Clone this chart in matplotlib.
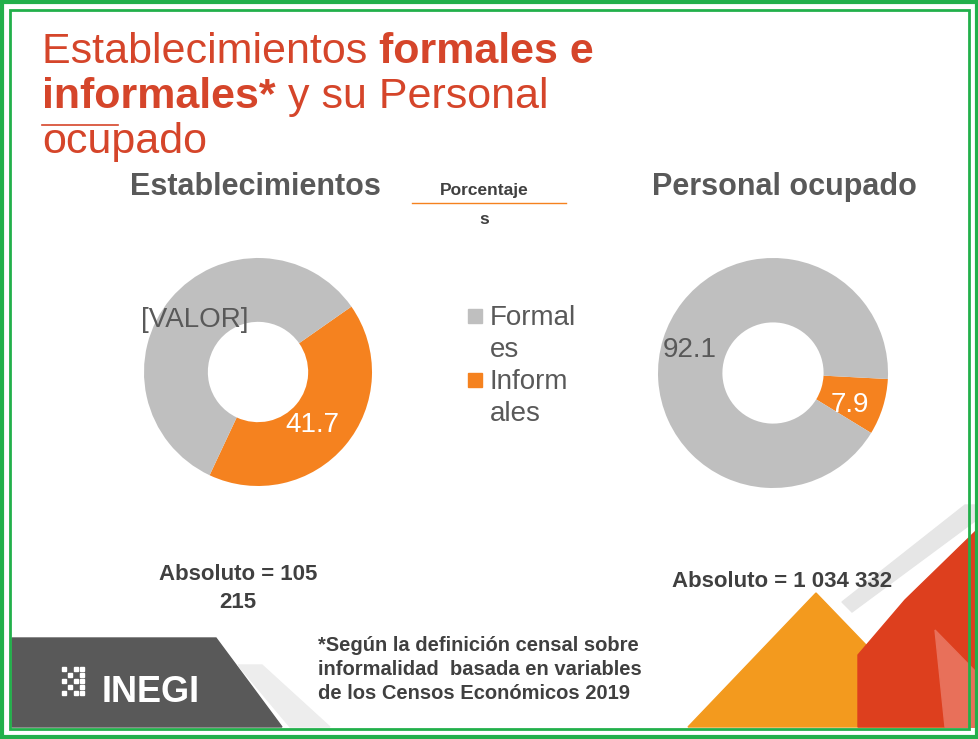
import matplotlib.pyplot as plt
from matplotlib.patches import Rectangle, Polygon

# data
categories = ["Formales", "Informales"]
establecimientos = [58.3, 41.7]
personal = [92.1, 7.9]
est_labels = ["[VALOR]", "41.7"]
per_labels = ["92.1", "7.9"]

GRAY = "#BFBFBF"
ORANGE = "#F5821F"
TITLE = "#D5452A"
DARK = "#404040"
FONT = "Liberation Sans"

W, H = 979, 739
fig = plt.figure(figsize=(W / 100, H / 100), dpi=100)
bg = fig.add_axes([0, 0, 1, 1])
bg.set_xlim(0, W)
bg.set_ylim(H, 0)
bg.axis("off")

# decorative slide shapes
bg.add_patch(Polygon([(12, 638), (216, 638), (282, 727), (12, 727)], color="#595959"))
bg.add_patch(Polygon([(238, 665), (262, 665), (330, 727), (290, 727)], color="#EDEDED"))
bg.add_patch(Polygon([(965, 505), (979, 505), (979, 518), (852, 612), (842, 602)], color="#E6E6E6"))
bg.add_patch(Polygon([(688, 727), (816, 593), (945, 727)], color="#F39A1E"))
bg.add_patch(Polygon([(979, 528), (979, 727), (858, 727), (858, 655), (905, 600)], color="#DD3F1E"))
bg.add_patch(Polygon([(935, 630), (979, 675), (979, 727), (945, 727)], color="#E8705A"))

# green double frame
bg.add_patch(Rectangle((2, 2), W - 4, H - 4, fill=False, ec="#22B04B", lw=3))
bg.add_patch(Rectangle((10, 10), W - 20, H - 20, fill=False, ec="#22B04B", lw=2))

# title with mixed weights
def runs(x, y, parts):
    r = fig.canvas.get_renderer()
    for s, w in parts:
        t = bg.text(x, y, s, fontsize=31, color=TITLE, fontweight=w, family=FONT, va="baseline")
        bb = t.get_window_extent(r)
        x += bb.width

runs(42, 63, [("Establecimientos ", "normal"), ("formales e", "bold")])
runs(42, 108, [("informales*", "bold"), (" y su Personal", "normal")])
runs(42, 153, [("ocupado", "normal")])
bg.plot([42, 118], [125, 125], color=TITLE, lw=1.2)

bg.text(130, 195, "Establecimientos", fontsize=22, color="#595959", family=FONT, fontweight="bold")
bg.text(652, 195, "Personal ocupado", fontsize=22, color="#595959", family=FONT, fontweight="bold")
bg.text(484, 195, "Porcentaje", fontsize=12.5, color=DARK, family=FONT, fontweight="bold", ha="center")
bg.plot([412, 566], [203, 203], color=ORANGE, lw=1)
bg.text(484, 224, "s", fontsize=12.5, color=DARK, family=FONT, fontweight="bold", ha="center")

# legend
leg_text = [("Formal", "es"), ("Inform", "ales")]
for i, (c, (a, b)) in enumerate(zip([GRAY, ORANGE], leg_text)):
    y = 316 + i * 64
    bg.add_patch(Rectangle((468, y - 7), 14, 14, color=c))
    bg.text(490, y + 9, a, fontsize=20, color="#595959", family=FONT)
    bg.text(490, y + 41, b, fontsize=20, color="#595959", family=FONT)

bg.text(238, 580, "Absoluto = 105", fontsize=16, color=DARK, family=FONT, fontweight="bold", ha="center")
bg.text(238, 608, "215", fontsize=16, color=DARK, family=FONT, fontweight="bold", ha="center")
bg.text(782, 587, "Absoluto = 1 034 332", fontsize=16, color=DARK, family=FONT, fontweight="bold", ha="center")

for i, line in enumerate(["*Según la definición censal sobre",
                          "informalidad  basada en variables",
                          "de los Censos Económicos 2019"]):
    bg.text(318, 651 + i * 24, line, fontsize=14.5, color=DARK, family=FONT, fontweight="bold")

# INEGI logo
for cx in range(4):
    for cy in range(5):
        if (cx + cy) % 2 == 0 or cx == 3:
            bg.add_patch(Rectangle((62 + cx * 6, 667 + cy * 6), 4, 4, color="white"))
bg.text(102, 702, "INEGI", fontsize=26, color="white", family=FONT, fontweight="bold")


def donut(cx, cy, r, vals, start, labels, label_pos, label_col):
    ax = fig.add_axes([(cx - r) / W, (H - cy - r) / H, 2 * r / W, 2 * r / H])
    ax.pie(vals[::-1], colors=[ORANGE, GRAY], startangle=start, counterclock=False,
           radius=1, wedgeprops=dict(width=0.56, linewidth=0))
    ax.set_xlim(-1, 1)
    ax.set_ylim(-1, 1)
    ax.axis("off")
    for lab, (lx, ly), col in zip(labels, label_pos, label_col):
        ax.text(lx, ly, lab, fontsize=20, color=col, family=FONT, ha="center", va="center",
                transform=bg.transData, clip_on=False)


donut(258, 372, 114, establecimientos, 35, est_labels, [(195, 320), (312, 425)], ["#595959", "white"])
donut(773, 373, 115, personal, -3, per_labels, [(690, 350), (850, 405)], ["#595959", "white"])

fig.savefig("out.png", dpi=100)
